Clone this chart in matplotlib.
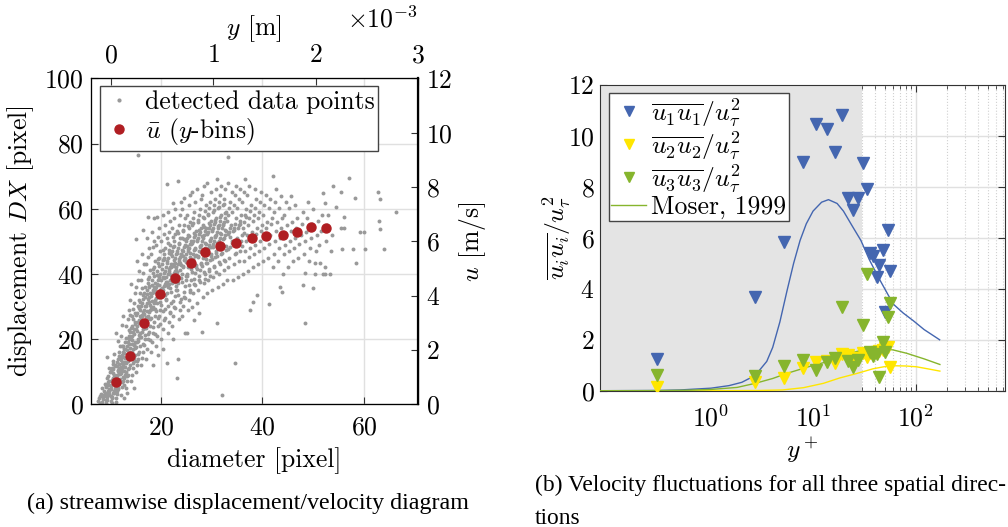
import numpy as np
import matplotlib
matplotlib.use("Agg")
import matplotlib.pyplot as plt
from matplotlib.lines import Line2D

plt.rcParams['font.family'] = 'serif'
plt.rcParams['font.serif'] = ['cmr10', 'DejaVu Serif']
plt.rcParams['mathtext.fontset'] = 'cm'
plt.rcParams['axes.formatter.use_mathtext'] = True
plt.rcParams['axes.unicode_minus'] = False
plt.rcParams['font.size'] = 18.5

# ---------------- data: left panel ----------------
diameter = [
    7.6, 8.0, 8.3, 8.5, 8.8, 7.9, 8.6, 8.2, 8.9, 8.4, 7.7, 8.7,
    9.1, 9.4, 9.6, 9.8, 9.2, 9.5, 9.7, 9.3, 9.9, 9.4, 9.6, 9.1, 9.8, 9.5,
    10.1, 10.3, 10.5, 10.7, 10.9, 10.2, 10.4, 10.6, 10.8, 10.1, 10.3, 10.5, 10.7, 10.9, 10.2, 10.6, 10.4, 10.8,
    11.1, 11.3, 11.5, 11.7, 11.9, 11.2, 11.4, 11.6, 11.8, 11.0, 11.3, 11.5, 11.7, 11.9, 11.2, 11.4, 11.6, 11.8, 11.1, 11.5,
    12.1, 12.3, 12.5, 12.7, 12.9, 12.2, 12.4, 12.6, 12.8, 12.0, 12.3, 12.5, 12.7, 12.9, 12.2, 12.4, 12.6, 12.8, 12.1, 12.5, 12.7, 12.3,
    13.1, 13.3, 13.5, 13.7, 13.9, 13.2, 13.4, 13.6, 13.8, 13.0, 13.3, 13.5, 13.7, 13.9, 13.2, 13.4, 13.6, 13.8, 13.1, 13.5, 13.7, 13.3, 13.9,
    14.1, 14.3, 14.5, 14.7, 14.9, 14.2, 14.4, 14.6, 14.8, 14.0, 14.3, 14.5, 14.7, 14.9, 14.2, 14.4, 14.6, 14.8, 14.1, 14.5, 14.7, 14.3, 14.9, 14.6,
    15.1, 15.3, 15.5, 15.7, 15.9, 15.2, 15.4, 15.6, 15.8, 15.0, 15.3, 15.5, 15.7, 15.9, 15.2, 15.4, 15.6, 15.8, 15.1, 15.5, 15.7, 15.3, 15.0, 15.5, 15.9,
    16.1, 16.3, 16.5, 16.7, 16.9, 16.2, 16.4, 16.6, 16.8, 16.0, 16.3, 16.5, 16.7, 16.9, 16.2, 16.4, 16.6, 16.8, 16.1, 16.5, 16.7, 16.3, 16.5, 16.9, 16.2,
    17.1, 17.3, 17.5, 17.7, 17.9, 17.2, 17.4, 17.6, 17.8, 17.0, 17.3, 17.5, 17.7, 17.9, 17.2, 17.4, 17.6, 17.8, 17.1, 17.5, 17.7, 17.3, 17.4, 17.9, 17.6,
    18.1, 18.3, 18.5, 18.7, 18.9, 18.2, 18.4, 18.6, 18.8, 18.0, 18.3, 18.5, 18.7, 18.9, 18.2, 18.4, 18.6, 18.8, 18.1, 18.5, 18.7, 18.3, 18.9, 18.4, 18.6,
    19.1, 19.3, 19.5, 19.7, 19.9, 19.2, 19.4, 19.6, 19.8, 19.0, 19.3, 19.5, 19.7, 19.9, 19.2, 19.4, 19.6, 19.8, 19.1, 19.5, 19.7, 19.3, 19.8, 19.4, 19.6,
    20.1, 20.3, 20.5, 20.7, 20.9, 20.2, 20.4, 20.6, 20.8, 20.0, 20.3, 20.5, 20.7, 20.9, 20.2, 20.4, 20.6, 20.8, 20.1, 20.5, 20.7, 20.3, 20.9, 20.4, 20.6,
    21.1, 21.3, 21.5, 21.7, 21.9, 21.2, 21.4, 21.6, 21.8, 21.0, 21.3, 21.5, 21.7, 21.9, 21.2, 21.4, 21.6, 21.8, 21.1, 21.5, 21.7, 21.3, 21.1, 21.6, 21.9,
    22.1, 22.3, 22.5, 22.7, 22.9, 22.2, 22.4, 22.6, 22.8, 22.0, 22.3, 22.5, 22.7, 22.9, 22.2, 22.4, 22.6, 22.8, 22.1, 22.5, 22.7, 22.4, 22.3, 22.8,
    23.1, 23.3, 23.5, 23.7, 23.9, 23.2, 23.4, 23.6, 23.8, 23.0, 23.3, 23.5, 23.7, 23.9, 23.2, 23.4, 23.6, 23.8, 23.1, 23.5, 23.7, 23.9, 23.4, 23.6,
    24.1, 24.3, 24.5, 24.7, 24.9, 24.2, 24.4, 24.6, 24.8, 24.0, 24.3, 24.5, 24.7, 24.9, 24.2, 24.4, 24.6, 24.8, 24.1, 24.5, 24.7, 24.3,
    25.1, 25.3, 25.5, 25.7, 25.9, 25.2, 25.4, 25.6, 25.8, 25.0, 25.3, 25.5, 25.7, 25.9, 25.2, 25.4, 25.6, 25.8, 25.1, 25.5, 25.7, 25.3,
    26.1, 26.3, 26.5, 26.7, 26.9, 26.2, 26.4, 26.6, 26.8, 26.0, 26.3, 26.5, 26.7, 26.9, 26.2, 26.4, 26.6, 26.8, 26.1, 26.5, 26.7,
    27.1, 27.3, 27.5, 27.7, 27.9, 27.2, 27.4, 27.6, 27.8, 27.0, 27.3, 27.5, 27.7, 27.9, 27.2, 27.4, 27.6, 27.8, 27.1, 27.5,
    28.1, 28.3, 28.5, 28.7, 28.9, 28.2, 28.4, 28.6, 28.8, 28.0, 28.3, 28.5, 28.7, 28.9, 28.2, 28.4, 28.6, 28.8, 28.1, 28.5,
    29.1, 29.3, 29.5, 29.7, 29.9, 29.2, 29.4, 29.6, 29.8, 29.0, 29.3, 29.5, 29.7, 29.9, 29.2, 29.4, 29.6, 29.8, 29.1,
    30.1, 30.3, 30.5, 30.7, 30.9, 30.2, 30.4, 30.6, 30.8, 30.0, 30.3, 30.5, 30.7, 30.9, 30.2, 30.4, 30.6, 30.8,
    31.1, 31.3, 31.5, 31.7, 31.9, 31.2, 31.4, 31.6, 31.8, 31.0, 31.3, 31.5, 31.7, 31.9, 31.2, 31.4, 31.6, 31.8, 31.1,
    32.1, 32.3, 32.5, 32.7, 32.9, 32.2, 32.4, 32.6, 32.8, 32.0, 32.3, 32.5, 32.7, 32.9, 32.2, 32.4, 32.6,
    33.1, 33.3, 33.5, 33.7, 33.9, 33.2, 33.4, 33.6, 33.8, 33.0, 33.3, 33.5, 33.7, 33.9, 33.2, 33.3,
    34.6, 34.1, 34.3, 34.5, 34.7, 34.9, 34.2, 34.4, 34.6, 34.8, 34.0, 34.3, 34.5, 34.7,
    35.1, 35.3, 35.5, 35.7, 35.9, 35.2, 35.4, 35.6, 35.8, 35.0, 35.3, 35.6,
    36.1, 36.3, 36.5, 36.7, 36.9, 36.2, 36.4, 36.6, 36.8, 36.0, 36.3, 36.6,
    37.5, 37.1, 37.3, 37.5, 37.7, 37.9, 37.2, 37.4, 37.6, 37.8, 37.0, 37.4,
    38.2, 38.9, 38.1, 38.3, 38.5, 38.7, 38.9, 38.2, 38.4, 38.6, 38.8, 38.5,
    39.1, 39.3, 39.5, 39.7, 39.9, 39.2, 39.4, 39.6, 39.8,
    40.1, 40.3, 40.5, 40.7, 40.9, 40.2, 40.4, 40.6,
    41.3, 41.1, 41.3, 41.5, 41.7, 41.9, 41.2, 41.4, 42.1,
    42.1, 42.3, 42.5, 42.7, 42.9, 42.2, 42.4, 42.6,
    43.9, 43.4, 43.1, 43.3, 43.5, 43.7, 43.9, 43.2, 43.6,
    44.1, 44.3, 44.5, 44.7, 44.9, 44.2, 44.6,
    45.1, 45.3, 45.5, 45.7, 45.9, 45.2, 45.6,
    46.1, 46.3, 46.5, 46.7, 46.9, 46.4,
    47.9, 47.1, 47.3, 47.5, 47.7, 47.9,
    48.4, 48.4, 48.1, 48.3, 48.5, 48.7, 48.9,
    49.1, 49.3, 49.5, 49.7, 49.9,
    50.0, 50.3, 50.3, 50.5, 50.7, 50.9,
    51.3, 51.1, 51.5, 51.7, 51.9,
    52.0, 52.3, 52.3, 52.5, 52.7, 52.9, 52.4,
    53.3, 53.5, 53.7, 54.0,
    55.6, 55.4, 56.0, 56.0, 55.5, 54.5,
    57.0, 58.2, 57.9, 58.4, 59.2, 60.0, 60.2, 62.8, 63.2, 62.9, 63.2, 63.9, 66.3,
]
displacement = [
    1.0, 2.5, 0.6, 2.3, 4.0, 0.4, 1.6, 3.3, 6.2, 5.0, 2.0, 3.0,
    0.5, 2.1, 3.2, 4.6, 5.3, 6.0, 7.1, 8.2, 9.8, 14.5, 3.0, 1.4, 11.0, 4.0,
    1.0, 2.0, 3.5, 4.2, 5.1, 6.0, 7.0, 8.1, 9.0, 10.2, 11.0, 12.3, 6.5, 4.5, 2.6, 13.4, 0.4, 15.5,
    2.0, 3.1, 5.0, 6.2, 7.0, 8.1, 9.0, 10.2, 11.0, 12.0, 13.1, 14.0, 16.2, 18.0, 22.0, 4.0, 7.5, 9.6, 0.8, 19.5,
    3.0, 5.2, 7.0, 8.1, 9.0, 10.1, 11.0, 12.2, 13.0, 14.1, 15.0, 16.2, 17.0, 19.1, 21.0, 24.2, 27.0, 6.0, 11.5, 14.6, 1.8, 18.0,
    5.0, 7.1, 9.0, 11.2, 12.0, 13.1, 14.0, 15.2, 16.0, 17.1, 18.0, 19.2, 20.0, 22.1, 24.0, 26.2, 29.0, 32.0, 10.0, 15.5, 21.0, 3.5, 27.5,
    7.0, 9.1, 11.0, 13.2, 15.0, 16.1, 17.0, 18.2, 19.0, 20.1, 21.0, 22.2, 23.0, 25.1, 27.0, 29.2, 31.0, 34.1, 37.0, 14.0, 18.5, 24.0, 28.0, 5.0,
    10.0, 12.1, 14.0, 16.2, 18.0, 19.1, 20.0, 21.2, 22.0, 23.1, 24.0, 25.2, 26.0, 27.1, 28.0, 30.2, 32.0, 34.1, 36.0, 38.2, 41.0, 44.0, 50.6, 76.6, 29.0,
    12.0, 14.1, 16.0, 18.2, 20.0, 22.1, 23.0, 24.2, 25.0, 26.1, 27.0, 28.2, 29.0, 30.1, 31.0, 32.2, 34.0, 36.1, 38.0, 40.2, 43.0, 46.0, 53.5, 33.0, 27.5,
    14.0, 17.1, 20.0, 22.2, 24.0, 26.1, 27.0, 28.2, 29.0, 30.1, 31.0, 32.2, 33.0, 34.1, 35.0, 37.2, 39.0, 41.1, 43.0, 45.2, 48.0, 51.0, 57.5, 30.5, 36.0,
    16.0, 19.1, 22.0, 25.2, 27.0, 29.1, 30.0, 31.2, 32.0, 33.1, 34.0, 35.2, 36.0, 37.1, 38.0, 40.2, 42.0, 44.1, 46.0, 48.2, 50.0, 53.0, 35.5, 12.0, 57.0,
    18.0, 21.1, 24.0, 27.2, 29.0, 31.1, 33.0, 34.2, 35.0, 36.1, 37.0, 38.2, 39.0, 40.1, 41.0, 43.2, 45.0, 47.1, 49.0, 51.2, 54.0, 57.5, 33.5, 15.0, 38.5,
    20.0, 23.1, 26.0, 29.2, 32.0, 34.1, 35.0, 36.2, 37.0, 38.1, 39.0, 40.2, 41.0, 42.1, 43.0, 44.2, 46.0, 48.1, 50.0, 52.2, 55.0, 58.0, 36.5, 17.0, 44.8,
    12.6, 22.0, 25.1, 28.0, 31.2, 34.0, 36.1, 37.0, 38.2, 39.0, 40.1, 41.0, 42.2, 43.0, 44.1, 45.0, 47.2, 49.0, 51.1, 53.0, 56.2, 59.0, 67.5, 41.5, 46.0,
    24.0, 27.1, 30.0, 33.2, 35.0, 37.1, 39.0, 40.2, 41.0, 42.1, 43.0, 44.2, 45.0, 46.1, 47.0, 48.2, 50.0, 52.1, 54.0, 57.2, 60.0, 61.7, 20.0, 43.5,
    8.2, 14.0, 26.1, 29.0, 32.2, 35.0, 37.1, 39.0, 41.2, 42.0, 43.1, 44.0, 45.2, 46.0, 47.1, 48.0, 49.2, 51.0, 53.1, 55.0, 58.2, 62.0, 68.6, 44.5,
    27.0, 30.1, 33.0, 36.2, 38.0, 40.1, 42.0, 44.2, 45.0, 46.1, 47.0, 48.2, 49.0, 50.1, 51.0, 53.2, 55.0, 57.1, 60.0, 63.2, 22.0, 45.5,
    21.8, 29.0, 32.1, 35.0, 38.2, 40.0, 42.1, 44.0, 45.2, 46.0, 47.1, 48.0, 49.2, 50.0, 51.1, 52.0, 54.2, 56.0, 58.1, 61.0, 64.2, 47.5,
    30.0, 34.1, 37.0, 40.2, 42.0, 44.1, 46.0, 47.2, 48.0, 49.1, 50.0, 51.2, 52.0, 53.1, 55.0, 57.2, 59.0, 62.1, 65.0, 26.0, 45.5,
    31.0, 35.1, 38.0, 41.2, 43.0, 45.1, 47.0, 48.2, 49.0, 50.1, 51.0, 52.2, 53.0, 54.1, 56.0, 58.2, 60.0, 63.1, 66.0, 28.0,
    22.3, 33.0, 37.1, 40.0, 43.2, 45.0, 47.1, 48.0, 49.2, 50.0, 51.1, 52.0, 53.2, 54.0, 55.1, 57.0, 59.2, 61.0, 64.1, 67.0,
    34.0, 38.1, 41.0, 44.2, 46.0, 48.1, 49.0, 50.2, 51.0, 52.1, 53.0, 54.2, 55.0, 56.1, 58.0, 60.2, 62.0, 65.1, 68.0,
    35.0, 39.1, 42.0, 45.2, 47.0, 49.1, 50.0, 51.2, 52.0, 53.1, 54.0, 55.2, 56.0, 57.1, 59.0, 61.2, 63.0, 66.1,
    24.8, 36.0, 40.1, 43.0, 46.2, 48.0, 50.1, 51.0, 52.2, 53.0, 54.1, 55.0, 56.2, 58.0, 60.1, 62.0, 64.2, 67.0, 69.1,
    2.9, 37.0, 41.1, 44.0, 47.2, 49.0, 51.1, 52.0, 53.2, 54.0, 55.1, 56.0, 57.2, 59.0, 61.1, 63.0, 66.2,
    38.0, 42.1, 45.0, 48.2, 50.0, 52.1, 53.0, 54.2, 55.0, 56.1, 58.0, 60.2, 62.0, 65.1, 68.0, 75.8,
    12.6, 38.0, 43.1, 46.0, 49.2, 51.0, 53.1, 54.0, 55.2, 57.0, 59.1, 61.0, 64.2, 67.0,
    39.0, 44.1, 47.0, 50.2, 52.0, 54.1, 55.0, 56.2, 58.0, 60.1, 63.0, 66.2,
    40.0, 44.1, 47.0, 50.2, 52.0, 54.1, 56.0, 58.2, 60.0, 62.1, 65.0, 69.2,
    28.9, 41.0, 45.1, 48.0, 51.2, 53.0, 55.1, 57.0, 59.2, 61.0, 64.1, 67.0,
    31.3, 33.5, 42.0, 46.1, 49.0, 52.2, 54.0, 56.1, 58.0, 60.2, 63.0, 66.1,
    43.0, 47.1, 50.0, 53.2, 55.0, 57.1, 59.0, 62.2, 65.0,
    44.0, 48.1, 51.0, 54.2, 56.0, 58.1, 61.0, 64.2,
    30.7, 45.0, 49.1, 52.0, 55.2, 57.0, 60.1, 63.0, 70.1,
    42.0, 46.1, 50.0, 53.2, 56.0, 59.1, 62.0, 66.2,
    34.5, 36.1, 44.0, 48.1, 51.0, 54.2, 57.0, 60.1, 64.0,
    40.0, 46.1, 49.0, 52.2, 55.0, 58.1, 62.0,
    42.0, 47.1, 50.0, 53.2, 56.0, 60.1, 64.0,
    44.0, 48.1, 51.0, 54.2, 57.0, 61.1,
    36.6, 45.0, 49.1, 52.0, 55.2, 59.0,
    24.8, 40.4, 46.0, 50.1, 53.0, 57.2, 62.0,
    44.0, 48.1, 51.0, 55.2, 60.0,
    35.6, 40.0, 43.2, 47.1, 52.0, 56.2,
    43.2, 49.0, 53.1, 58.0, 64.7,
    40.0, 42.2, 39.9, 50.0, 55.1, 58.1, 61.7,
    40.0, 47.1, 52.0, 67.0,
    47.5, 54.0, 54.0, 57.5, 65.0, 60.5,
    69.3, 63.4, 47.5, 43.4, 52.9, 52.9, 47.5, 65.2, 62.9, 56.3, 53.9, 47.7, 59.1,
]

# extra points in the dense core of the cloud (diameter, displacement)
core_points = [
    (9.05, 3.5), (9.25, 5.5), (9.45, 1.2), (9.65, 6.8), (9.85, 4.2), (9.15, 2.4), (9.55, 8.6), (9.75, 3.1),
    (10.05, 4.8), (10.25, 7.6), (10.45, 9.5), (10.65, 3.4), (10.85, 6.3), (10.15, 5.6), (10.55, 10.8), (10.75, 8.2), (10.35, 2.2), (10.95, 11.6),
    (11.05, 5.4), (11.25, 8.7), (11.45, 10.6), (11.65, 12.5), (11.85, 9.3), (11.15, 6.9), (11.55, 4.6), (11.75, 14.8), (11.35, 11.8), (11.95, 7.8),
    (12.05, 9.6), (12.25, 12.7), (12.45, 8.4), (12.65, 15.6), (12.85, 11.4), (12.15, 13.5), (12.55, 17.8), (12.75, 10.3), (12.35, 6.7), (12.95, 14.3),
    (13.05, 12.6), (13.25, 16.7), (13.45, 10.8), (13.65, 18.5), (13.85, 14.6), (13.15, 20.4), (13.55, 13.4), (13.75, 22.8), (13.35, 8.6), (13.95, 17.3),
    (14.05, 15.4), (14.25, 19.7), (14.45, 12.6), (14.65, 21.6), (14.85, 17.4), (14.15, 23.3), (14.55, 26.1), (14.75, 14.3), (14.35, 18.6), (14.95, 24.7),
    (15.05, 17.6), (15.25, 22.6), (15.45, 15.3), (15.65, 24.8), (15.85, 20.5), (15.15, 27.4), (15.55, 19.4), (15.75, 29.6), (15.35, 13.2), (15.95, 31.5),
    (16.05, 20.6), (16.25, 25.4), (16.45, 18.4), (16.65, 27.6), (16.85, 23.5), (16.15, 30.3), (16.55, 33.5), (16.75, 21.4), (16.35, 35.6), (16.95, 26.8),
    (17.05, 23.4), (17.25, 28.6), (17.45, 21.5), (17.65, 31.4), (17.85, 26.3), (17.15, 33.7), (17.55, 36.4), (17.75, 19.6), (17.35, 38.5), (17.95, 29.7),
    (18.05, 26.5), (18.25, 31.6), (18.45, 23.8), (18.65, 34.4), (18.85, 29.3), (18.15, 36.7), (18.55, 39.5), (18.75, 21.6), (18.35, 41.4), (18.95, 32.7),
    (19.05, 28.6), (19.25, 33.7), (19.45, 26.4), (19.65, 36.5), (19.85, 31.3), (19.15, 39.6), (19.55, 42.4), (19.75, 24.5), (19.35, 44.6), (19.95, 35.4),
    (20.05, 30.6), (20.25, 35.6), (20.45, 28.5), (20.65, 38.6), (20.85, 33.4), (20.15, 41.5), (20.55, 44.5), (20.75, 26.6), (20.35, 47.3), (20.95, 37.5),
    (21.05, 32.4), (21.25, 37.5), (21.45, 30.3), (21.65, 40.4), (21.85, 35.6), (21.15, 43.5), (21.55, 46.4), (21.75, 28.4), (21.35, 49.5), (21.95, 39.6),
    (22.05, 34.5), (22.25, 39.4), (22.45, 31.6), (22.65, 42.5), (22.85, 37.4), (22.15, 45.6), (22.55, 48.5), (22.75, 29.5), (22.35, 51.4), (22.95, 41.3),
    (23.05, 36.4), (23.25, 40.6), (23.45, 33.5), (23.65, 43.4), (23.85, 38.6), (23.15, 46.5), (23.55, 49.4), (23.75, 31.4), (23.35, 52.6), (23.95, 42.7),
    (24.05, 37.6), (24.25, 42.4), (24.45, 34.6), (24.65, 44.5), (24.85, 39.5), (24.15, 47.4), (24.55, 50.6), (24.75, 32.6), (24.35, 53.5), (24.95, 43.6),
    (25.05, 39.4), (25.25, 43.5), (25.45, 36.5), (25.65, 46.4), (25.85, 41.4), (25.15, 48.6), (25.55, 51.5), (25.75, 34.4), (25.35, 54.6), (25.95, 44.7),
    (26.05, 40.5), (26.25, 44.6), (26.45, 38.4), (26.65, 47.5), (26.85, 42.6), (26.15, 49.4), (26.55, 52.6), (26.75, 36.5), (26.35, 55.5), (26.95, 45.8),
    (27.05, 41.6), (27.25, 45.4), (27.45, 39.5), (27.65, 48.6), (27.85, 43.4), (27.15, 50.5), (27.55, 53.4), (27.75, 37.6), (27.35, 56.6), (27.95, 46.7),
    (28.05, 42.4), (28.25, 46.5), (28.45, 40.6), (28.65, 49.4), (28.85, 44.5), (28.15, 51.6), (28.55, 54.5), (28.75, 38.4), (28.35, 57.4), (28.95, 47.6),
    (29.05, 43.5), (29.25, 47.6), (29.45, 41.4), (29.65, 50.5), (29.85, 45.6), (29.15, 52.4), (29.55, 55.6), (29.75, 39.5), (29.35, 58.5), (29.95, 48.4),
    (30.05, 44.6), (30.25, 48.4), (30.45, 42.5), (30.65, 51.6), (30.85, 46.4), (30.15, 53.5), (30.55, 56.4), (30.75, 40.6), (30.35, 59.6), (30.95, 49.5),
    (31.05, 45.4), (31.25, 49.5), (31.45, 43.6), (31.65, 52.4), (31.85, 47.5), (31.15, 54.6), (31.55, 57.5), (31.35, 60.4),
    (32.05, 46.5), (32.25, 50.6), (32.45, 44.4), (32.65, 53.5), (32.85, 48.6), (32.15, 55.4), (32.55, 58.6), (32.35, 61.5),
    (33.25, 47.5), (33.65, 51.4), (34.05, 49.6), (34.45, 53.6), (34.85, 46.4), (35.25, 50.5), (35.65, 55.4), (36.05, 48.5), (36.45, 52.4), (36.85, 57.6),
]

bin_diameter = [11.1, 13.8, 16.7, 19.8, 22.7, 25.9, 28.7, 31.7, 34.8, 37.9, 40.7, 44.0, 46.9, 49.6, 52.5]
bin_displacement = [6.9, 14.8, 24.9, 33.9, 38.8, 43.2, 46.6, 48.6, 49.6, 51.1, 51.6, 51.9, 52.9, 54.5, 54.1]

# ---------------- data: right panel ----------------
yplus_pts = [0.3, 2.7, 5.2, 7.95, 10.6, 13.5, 16.2, 18.8, 21.9, 24.5, 27.3,
             30.2, 33.0, 35.6, 38.4, 41.4, 43.8, 47.3, 50.0, 52.8, 55.6]
uu1 = [1.23, 3.69, 5.84, 8.96, 10.46, 10.29, 9.37, 10.81, 7.55, 7.09, 7.55,
       8.92, 7.90, 5.39, 5.30, 4.47, 4.93, 5.52, 3.10, 6.30, 4.70]
uu2 = [0.16, 0.35, 0.51, 0.90, 1.11, 1.18, 1.07, 1.44, 1.40, 1.23, 1.30,
       1.47, 1.31, 1.47, 1.50, 1.53, 1.56, 1.60, 1.66, 1.70, 0.94]
uu3 = [0.62, 0.58, 0.97, 1.20, 0.81, 1.11, 1.27, 3.27, 1.18, 0.94, 1.20,
       2.58, 4.60, 1.53, 1.36, 1.44, 0.52, 1.92, 1.53, 2.90, 3.45]

moser_u_yp = [0.08, 0.3, 0.5, 1.0, 1.5, 2.0, 2.7, 3.5, 4.0, 4.7, 5.5, 6.4, 7.4, 8.5,
              9.9, 12, 14, 17, 19.6, 24, 29, 35, 43, 52, 60, 75, 94, 120, 170]
moser_uu = [0.0, 0.01, 0.03, 0.1, 0.2, 0.33, 0.6, 1.15, 1.7, 2.7, 3.9, 5.0, 5.9, 6.55,
            7.05, 7.4, 7.5, 7.35, 7.05, 6.45, 5.9, 5.15, 4.45, 3.85, 3.4, 3.05, 2.75, 2.4, 2.0]
moser_w_yp = [0.08, 0.3, 0.6, 1.0, 1.8, 2.7, 4, 5.5, 8, 10, 12.5, 17, 22, 30, 40, 48, 60, 81, 120, 171]
moser_ww = [0.0, 0.005, 0.02, 0.05, 0.13, 0.29, 0.48, 0.68, 0.88, 1.0, 1.1, 1.3, 1.45, 1.6,
            1.64, 1.65, 1.6, 1.47, 1.25, 1.03]
moser_v_yp = [0.08, 1, 3, 5, 8, 12.5, 18, 25, 30, 38, 50, 60, 80, 101, 130, 171]
moser_vv = [0.0, 0.0, 0.01, 0.03, 0.12, 0.29, 0.5, 0.65, 0.74, 0.86, 0.95, 0.98, 0.97, 0.94, 0.86, 0.77]

viscous_limit = 29.5

c_gray = '#999999'
c_red = '#b01e22'
c_blue = '#4466b0'
c_yellow = '#ffe600'
c_green = '#86b52d'
c_grid = '#e0e0e0'
c_axis = '#333333'

fig = plt.figure(figsize=(10.08, 5.27), dpi=100)

# ---------------- left panel ----------------
ax1 = fig.add_axes([0.090, 0.2328, 0.3244, 0.6186])
ax1.scatter(diameter, displacement, s=8, color=c_gray, linewidths=0, zorder=2)
ax1.scatter([p[0] for p in core_points], [p[1] for p in core_points],
            s=8, color=c_gray, linewidths=0, zorder=2)
ax1.plot(bin_diameter, bin_displacement, 'o', ms=6.5, color=c_red, mec=c_red, zorder=3)
ax1.set_xlim(6.15, 70.6)
ax1.set_ylim(0, 100)
ax1.set_xticks([20, 40, 60])
ax1.set_yticks([0, 20, 40, 60, 80, 100])
ax1.grid(True, color=c_grid, lw=1)
ax1.set_axisbelow(True)
ax1.tick_params(direction='in', length=5, top=True, color=c_axis)
ax1.tick_params(axis='x', pad=8)
ax1.tick_params(axis='y', pad=5)
ax1.set_xlabel('diameter [pixel]', labelpad=6)
ax1.set_ylabel('displacement $DX$ [pixel]', labelpad=6)
for sp in ax1.spines.values():
    sp.set_color(c_axis)

h1 = Line2D([], [], ls='none', marker='o', ms=2, color=c_gray)
h2 = Line2D([], [], ls='none', marker='o', ms=6.5, color=c_red)
leg1 = ax1.legend([h1, h2], ['detected data points', r'$\bar{u}$ ($y$-bins)'],
                  loc='upper left', bbox_to_anchor=(0.028, 0.976), borderaxespad=0,
                  fancybox=False, edgecolor='#444444', framealpha=1,
                  handlelength=1.2, handletextpad=0.4, borderpad=0.15, labelspacing=0.1)
leg1.get_frame().set_linewidth(1.0)

axr = ax1.twinx()
axr.set_ylim(0, 12)
axr.set_yticks([0, 2, 4, 6, 8, 10, 12])
axr.set_ylabel('$u$ [m/s]', labelpad=3)
axr.tick_params(direction='in', length=5, pad=6, color=c_axis)
axr.spines['right'].set_linewidth(1.6)

axt = ax1.twiny()
axt.set_xlim(-0.2, 3.0)
axt.set_xticks([0, 1, 2, 3])
axt.tick_params(direction='in', length=5, pad=8, color=c_axis)
axt.set_xlabel('$y$ [m]', labelpad=6)
axt.text(1.0, 1.157, r'$\times 10^{-3}$', transform=axt.transAxes, ha='right', va='baseline')

# ---------------- right panel ----------------
ax2 = fig.add_axes([0.5952, 0.2586, 0.4018, 0.5801])
ax2.set_xscale('log')
ax2.set_xlim(0.0826, 738)
ax2.set_ylim(0, 12)
ax2.axvspan(0.01, viscous_limit, color='#e4e4e4', lw=0, zorder=1)
ax2.grid(True, which='major', color=c_grid, lw=1)
ax2.grid(True, which='minor', axis='x', color='#d0d0d0', lw=0.8, ls=':')
ax2.set_axisbelow(True)

ax2.plot(moser_u_yp, moser_uu, color=c_blue, lw=1, zorder=3)
ax2.plot(moser_v_yp, moser_vv, color=c_yellow, lw=1, zorder=3)
ax2.plot(moser_w_yp, moser_ww, color=c_green, lw=1, zorder=3)
ax2.plot(yplus_pts, uu1, 'v', ms=8.5, color=c_blue, zorder=4)
ax2.plot(yplus_pts, uu2, 'v', ms=8.5, color=c_yellow, zorder=4)
ax2.plot(yplus_pts, uu3, 'v', ms=8.5, color=c_green, zorder=4)

ax2.set_yticks([0, 2, 4, 6, 8, 10, 12])
ax2.set_xticks([1, 10, 100])
ax2.tick_params(which='both', direction='in', top=True, right=True, color=c_axis)
ax2.tick_params(which='major', length=5)
ax2.tick_params(which='minor', length=3)
ax2.tick_params(axis='x', pad=10)
ax2.tick_params(axis='y', pad=4)
ax2.set_xlabel('$y^+$', labelpad=3)
ax2.set_ylabel(r'$\overline{u_i u_i}/u_\tau^2$', labelpad=-4)
for sp in ax2.spines.values():
    sp.set_color(c_axis)

hb = Line2D([], [], ls='none', marker='v', ms=6.5, color=c_blue)
hy = Line2D([], [], ls='none', marker='v', ms=6.5, color=c_yellow)
hg = Line2D([], [], ls='none', marker='v', ms=6.5, color=c_green)
hm = Line2D([], [], color=c_green, lw=1)
leg2 = ax2.legend([hb, hy, hg, hm],
                  [r'$\overline{u_1u_1}/u_\tau^2$', r'$\overline{u_2u_2}/u_\tau^2$',
                   r'$\overline{u_3u_3}/u_\tau^2$', 'Moser, 1999'],
                  loc='upper left', bbox_to_anchor=(0.022, 0.973), borderaxespad=0,
                  fancybox=False, edgecolor='#444444', framealpha=1,
                  handlelength=1.35, handletextpad=0.2, borderpad=0.1, labelspacing=0.0)
leg2.set_zorder(10)

cap_font = ['Liberation Serif', 'DejaVu Serif']
fig.text(0.246, 0.034, '(a) streamwise displacement/velocity diagram', ha='center', va='baseline',
         family=cap_font, fontsize=17.3)
fig.text(0.531, 0.068, '(b) Velocity fluctuations for all three spatial direc-', ha='left', va='baseline',
         family=cap_font, fontsize=16.9)
fig.text(0.531, 0.006, 'tions', ha='left', va='baseline', family=cap_font, fontsize=16.9)

fig.savefig('out.png', dpi=100)
